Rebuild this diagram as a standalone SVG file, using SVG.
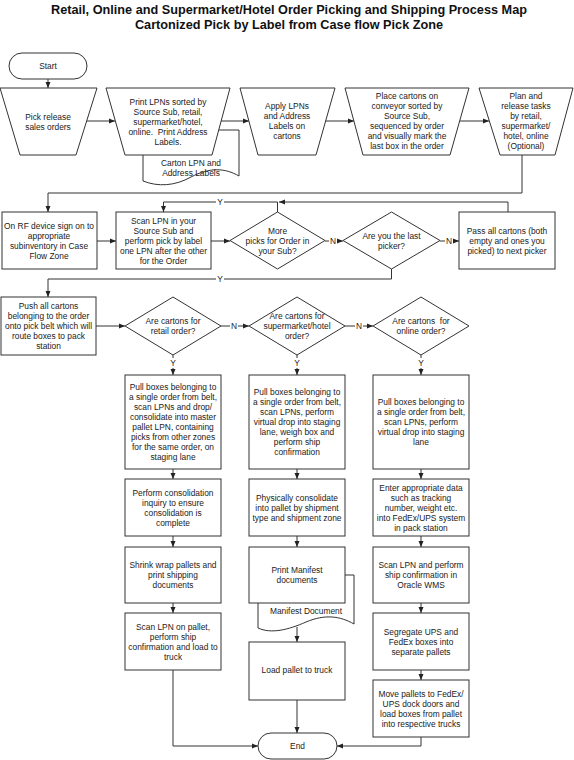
<svg xmlns="http://www.w3.org/2000/svg" width="574" height="760" viewBox="0 0 574 760">
<defs>
<marker id="ah" markerUnits="userSpaceOnUse" markerWidth="6" markerHeight="6" refX="6" refY="3" orient="auto">
<path d="M0,0.5 L6,3 L0,5.5 z" fill="#222"/>
</marker>
<style>
.s{fill:#fff;stroke:#333;stroke-width:1}
.t{font-family:"Liberation Sans",Arial,sans-serif;font-size:8.4px;fill:#222;text-anchor:middle}
.ti{font-family:"Liberation Sans",Arial,sans-serif;font-size:12.7px;font-weight:bold;fill:#111;text-anchor:middle}
.c{fill:none;stroke:#333;stroke-width:1}
.a{marker-end:url(#ah)}
.lb{fill:#fff}
</style>
</defs>
<rect width="574" height="760" fill="#fff"/>
<text class="ti" x="289" y="14">Retail, Online and Supermarket/Hotel Order Picking and Shipping Process Map</text>
<text class="ti" x="289" y="29">Cartonized Pick by Label from Case flow Pick Zone</text>

<g id="connectors">
<path class="c a" d="M48,79 V88"/>
<path class="c a" d="M87,121 H115"/>
<path class="c a" d="M221,121 H249"/>
<path class="c a" d="M326,121 H354"/>
<path class="c a" d="M460,121 H489"/>
<path class="c a" d="M522,155 V193 H48 V212"/>
<path class="c a" d="M97,241 H116"/>
<path class="c a" d="M211,241 H230"/>
<path class="c a" d="M277.5,212 V202 H163.5 V212"/>
<path class="c a" d="M508,212 V202 H279"/>
<path class="c a" d="M325,241 H343"/>
<path class="c a" d="M440,241 H459"/>
<path class="c a" d="M391.5,269 V279 H48 V297"/>
<path class="c a" d="M96,326 H125"/>
<path class="c a" d="M221,326 H249"/>
<path class="c a" d="M345,326 H373"/>
<path class="c a" d="M173,355 V375"/>
<path class="c a" d="M297,355 V375"/>
<path class="c a" d="M421,355 V375"/>
<path class="c a" d="M173,469 V479"/>
<path class="c a" d="M173,536 V547"/>
<path class="c a" d="M173,603 V613"/>
<path class="c a" d="M297,469 V479"/>
<path class="c a" d="M297,536 V547"/>
<path class="c a" d="M297,627 V642"/>
<path class="c a" d="M421,469 V479"/>
<path class="c a" d="M421,536 V547"/>
<path class="c a" d="M421,603 V613"/>
<path class="c a" d="M421,670 V680"/>
<path class="c a" d="M173,670 V746 H258"/>
<path class="c a" d="M297,700 V733"/>
<path class="c a" d="M421,737 V746 H337"/>
<rect class="lb" x="216" y="197" width="8" height="10"/>
<text class="t" x="220" y="205">Y</text>
<rect class="lb" x="216" y="274" width="8" height="10"/>
<text class="t" x="220" y="282">Y</text>
<rect class="lb" x="329" y="236" width="8" height="10"/>
<text class="t" x="333" y="244">N</text>
<rect class="lb" x="445" y="236" width="8" height="10"/>
<text class="t" x="449" y="244">N</text>
<rect class="lb" x="230" y="321" width="8" height="10"/>
<text class="t" x="234" y="329">N</text>
<rect class="lb" x="355" y="321" width="8" height="10"/>
<text class="t" x="359" y="329">N</text>
<rect class="lb" x="169" y="358" width="8" height="10"/>
<text class="t" x="173" y="366">Y</text>
<rect class="lb" x="293" y="358" width="8" height="10"/>
<text class="t" x="297" y="366">Y</text>
<rect class="lb" x="417" y="358" width="8" height="10"/>
<text class="t" x="421" y="366">Y</text>
</g>

<g id="start">
<rect class="s" x="9" y="53" width="78" height="26" rx="13"/>
<text class="t" x="48" y="69">Start</text>
</g>

<g id="pick-release">
<polygon class="s" points="0,88 97,88 76,155 20,155"/>
<text class="t" x="48" y="120">Pick release</text>
<text class="t" x="48" y="130">sales orders</text>
</g>

<g id="carton-labels-doc">
<path class="s" d="M143,130 H239 V176 C225,168 210,167 191,177 C175,186 158,187 143,181 Z"/>
<text class="t" x="191" y="166">Carton LPN and</text>
<text class="t" x="191" y="176">Address Labels</text>
</g>

<g id="print-lpns">
<polygon class="s" points="106,88 230,88 212,155 125,155"/>
<text class="t" x="168" y="104.5">Print LPNs sorted by</text>
<text class="t" x="168" y="114.5">Source Sub, retail,</text>
<text class="t" x="168" y="124.5">supermarket/hotel,</text>
<text class="t" x="168" y="134.5" xml:space="preserve">online.  Print Address</text>
<text class="t" x="168" y="144.5">Labels.</text>
</g>

<g id="apply-lpns">
<polygon class="s" points="240,88 335,88 316,155 258,155"/>
<text class="t" x="287" y="109">Apply LPNs</text>
<text class="t" x="287" y="119">and Address</text>
<text class="t" x="287" y="129">Labels on</text>
<text class="t" x="287" y="139">cartons</text>
</g>

<g id="place-cartons">
<polygon class="s" points="345,88 469,88 450,155 363,155"/>
<text class="t" x="407" y="99">Place cartons on</text>
<text class="t" x="407" y="109">conveyor sorted by</text>
<text class="t" x="407" y="119">Source Sub,</text>
<text class="t" x="407" y="129">sequenced by order</text>
<text class="t" x="407" y="139">and visually mark the</text>
<text class="t" x="407" y="149">last box in the order</text>
</g>

<g id="plan-release">
<polygon class="s" points="479,88 573,88 555,155 500,155"/>
<text class="t" x="526" y="99">Plan and</text>
<text class="t" x="526" y="109">release tasks</text>
<text class="t" x="526" y="119">by retail,</text>
<text class="t" x="526" y="129">supermarket/</text>
<text class="t" x="526" y="139">hotel, online</text>
<text class="t" x="526" y="149">(Optional)</text>
</g>

<g id="rf-sign-on">
<rect class="s" x="2" y="212" width="95" height="57"/>
<text class="t" x="49" y="228.5">On RF device sign on to</text>
<text class="t" x="49" y="238.5">appropriate</text>
<text class="t" x="49" y="248.5">subinventory in Case</text>
<text class="t" x="49" y="258.5">Flow Zone</text>
</g>

<g id="scan-lpn">
<rect class="s" x="116" y="212" width="95" height="57"/>
<text class="t" x="163.5" y="223.5">Scan LPN in your</text>
<text class="t" x="163.5" y="233.5">Source Sub and</text>
<text class="t" x="163.5" y="243.5">perform pick by label</text>
<text class="t" x="163.5" y="253.5">one LPN after the other</text>
<text class="t" x="163.5" y="263.5">for the Order</text>
</g>

<g id="more-picks">
<polygon class="s" points="277.5,212 325,240.5 277.5,269 230,240.5"/>
<text class="t" x="277.5" y="233.5">More</text>
<text class="t" x="277.5" y="243.5">picks for Order in</text>
<text class="t" x="277.5" y="253.5">your Sub?</text>
</g>

<g id="last-picker">
<polygon class="s" points="391.5,212 440,240.5 391.5,269 343,240.5"/>
<text class="t" x="391.5" y="238.5">Are you the last</text>
<text class="t" x="391.5" y="248.5">picker?</text>
</g>

<g id="pass-cartons">
<rect class="s" x="459" y="212" width="96" height="57"/>
<text class="t" x="507" y="233.5">Pass all cartons (both</text>
<text class="t" x="507" y="243.5">empty and ones you</text>
<text class="t" x="507" y="253.5">picked) to next picker</text>
</g>

<g id="push-cartons">
<rect class="s" x="1" y="297" width="95" height="58"/>
<text class="t" x="48.5" y="309">Push all cartons</text>
<text class="t" x="48.5" y="319">belonging to the order</text>
<text class="t" x="48.5" y="329">onto pick belt which will</text>
<text class="t" x="48.5" y="339">route boxes to pack</text>
<text class="t" x="48.5" y="349">station</text>
</g>

<g id="retail-decision">
<polygon class="s" points="173,297 221,326 173,355 125,326"/>
<text class="t" x="173" y="324">Are cartons for</text>
<text class="t" x="173" y="334">retail order?</text>
</g>

<g id="supermarket-decision">
<polygon class="s" points="297,297 345,326 297,355 249,326"/>
<text class="t" x="297" y="319">Are cartons for</text>
<text class="t" x="297" y="329">supermarket/hotel</text>
<text class="t" x="297" y="339">order?</text>
</g>

<g id="online-decision">
<polygon class="s" points="421,297 469,326 421,355 373,326"/>
<text class="t" x="421" y="324" xml:space="preserve">Are cartons  for</text>
<text class="t" x="421" y="334">online order?</text>
</g>

<g id="retail-pull">
<rect class="s" x="125" y="375" width="96" height="94"/>
<text class="t" x="173" y="390">Pull boxes belonging to</text>
<text class="t" x="173" y="400">a single order from belt,</text>
<text class="t" x="173" y="410">scan LPNs and drop/</text>
<text class="t" x="173" y="420">consolidate into master</text>
<text class="t" x="173" y="430">pallet LPN, containing</text>
<text class="t" x="173" y="440">picks from other zones</text>
<text class="t" x="173" y="450">for the same order, on</text>
<text class="t" x="173" y="460">staging lane</text>
</g>

<g id="retail-consolidation">
<rect class="s" x="125" y="479" width="96" height="57"/>
<text class="t" x="173" y="495.5">Perform consolidation</text>
<text class="t" x="173" y="505.5">inquiry to ensure</text>
<text class="t" x="173" y="515.5">consolidation is</text>
<text class="t" x="173" y="525.5">complete</text>
</g>

<g id="retail-shrink">
<rect class="s" x="125" y="547" width="96" height="56"/>
<text class="t" x="173" y="568">Shrink wrap pallets and</text>
<text class="t" x="173" y="578">print shipping</text>
<text class="t" x="173" y="588">documents</text>
</g>

<g id="retail-load">
<rect class="s" x="125" y="613" width="96" height="57"/>
<text class="t" x="173" y="629.5">Scan LPN on pallet,</text>
<text class="t" x="173" y="639.5">perform ship</text>
<text class="t" x="173" y="649.5">confirmation and load to</text>
<text class="t" x="173" y="659.5">truck</text>
</g>

<g id="super-pull">
<rect class="s" x="249" y="375" width="96" height="94"/>
<text class="t" x="297" y="395">Pull boxes belonging to</text>
<text class="t" x="297" y="405">a single order from belt,</text>
<text class="t" x="297" y="415">scan LPNs, perform</text>
<text class="t" x="297" y="425">virtual drop into staging</text>
<text class="t" x="297" y="435">lane, weigh box and</text>
<text class="t" x="297" y="445">perform ship</text>
<text class="t" x="297" y="455">confirmation</text>
</g>

<g id="super-consolidate">
<rect class="s" x="249" y="479" width="96" height="57"/>
<text class="t" x="297" y="500.5">Physically consolidate</text>
<text class="t" x="297" y="510.5">into pallet by shipment</text>
<text class="t" x="297" y="520.5">type and shipment zone</text>
</g>

<g id="manifest-doc">
<path class="s" d="M258,575 H354 V624 C340,616 325,614 306,622 C288,630 271,634 258,628 Z"/>
<text class="t" x="306" y="614">Manifest Document</text>
</g>

<g id="super-print">
<rect class="s" x="249" y="547" width="96" height="56"/>
<text class="t" x="297" y="573">Print Manifest</text>
<text class="t" x="297" y="583">documents</text>
</g>

<g id="super-load">
<rect class="s" x="249" y="642" width="96" height="58"/>
<text class="t" x="297" y="673">Load pallet to truck</text>
</g>

<g id="online-pull">
<rect class="s" x="373" y="375" width="96" height="94"/>
<text class="t" x="421" y="405">Pull boxes belonging to</text>
<text class="t" x="421" y="415">a single order from belt,</text>
<text class="t" x="421" y="425">scan LPNs, perform</text>
<text class="t" x="421" y="435">virtual drop into staging</text>
<text class="t" x="421" y="445">lane</text>
</g>

<g id="online-enter">
<rect class="s" x="373" y="479" width="96" height="57"/>
<text class="t" x="421" y="490.5">Enter appropriate data</text>
<text class="t" x="421" y="500.5">such as tracking</text>
<text class="t" x="421" y="510.5">number, weight etc.</text>
<text class="t" x="421" y="520.5">into FedEx/UPS system</text>
<text class="t" x="421" y="530.5">in pack station</text>
</g>

<g id="online-scan">
<rect class="s" x="373" y="547" width="96" height="56"/>
<text class="t" x="421" y="568">Scan LPN and perform</text>
<text class="t" x="421" y="578">ship confirmation in</text>
<text class="t" x="421" y="588">Oracle WMS</text>
</g>

<g id="online-segregate">
<rect class="s" x="373" y="613" width="96" height="57"/>
<text class="t" x="421" y="634.5">Segregate UPS and</text>
<text class="t" x="421" y="644.5">FedEx boxes into</text>
<text class="t" x="421" y="654.5">separate pallets</text>
</g>

<g id="online-move">
<rect class="s" x="373" y="680" width="96" height="57"/>
<text class="t" x="421" y="696.5">Move pallets to FedEx/</text>
<text class="t" x="421" y="706.5">UPS dock doors and</text>
<text class="t" x="421" y="716.5">load boxes from pallet</text>
<text class="t" x="421" y="726.5">into respective trucks</text>
</g>

<g id="end">
<rect class="s" x="258" y="733" width="79" height="26" rx="13"/>
<text class="t" x="297.5" y="749">End</text>
</g>
</svg>
